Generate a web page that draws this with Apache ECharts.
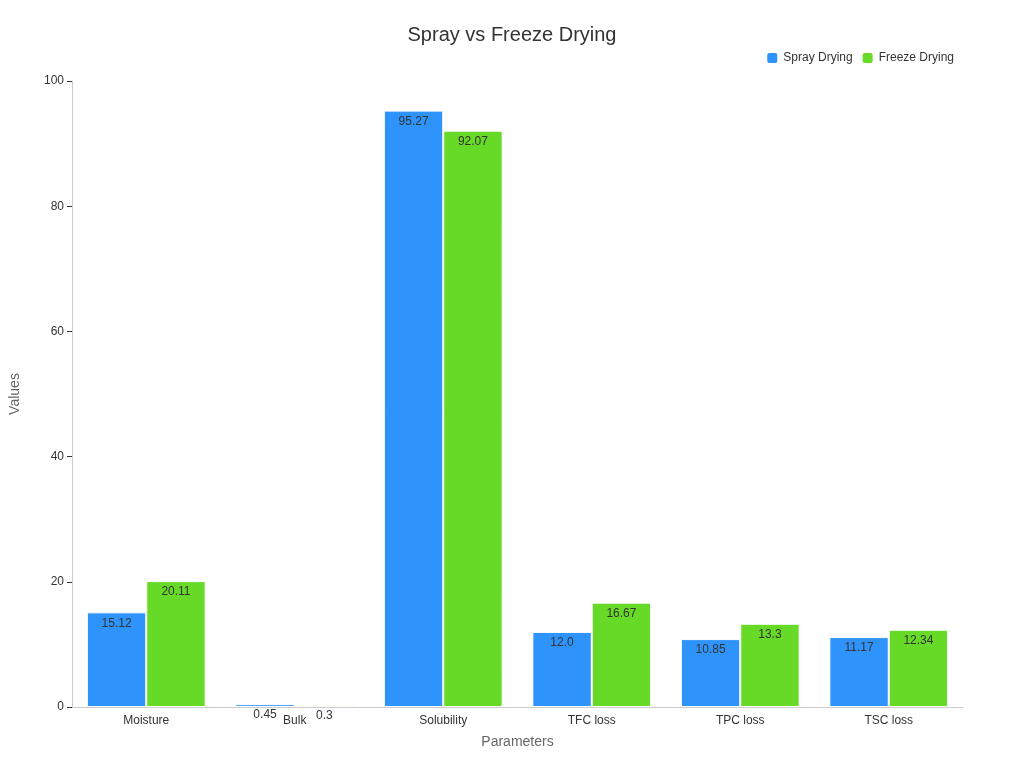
<!DOCTYPE html>
<html>
<head>
<meta charset="utf-8">
<script src="https://cdn.jsdelivr.net/npm/echarts@6/dist/echarts.min.js"></script>
<style>html,body{margin:0;padding:0;background:#fff}#main{width:1024px;height:768px}</style>
</head>
<body>
<div id="main"></div>
<script>
var categories = ['Moisture', 'Bulk', 'Solubility', 'TFC loss', 'TPC loss', 'TSC loss'];
var sprayDrying = [15.12, 0.45, 95.27, 12.0, 10.85, 11.17];
var freezeDrying = [20.11, 0.3, 92.07, 16.67, 13.3, 12.34];

var myChart = echarts.init(document.getElementById('main'));
var labelStyle = {
    show: true,
    position: 'insideTop',
    color: '#333',
    fontSize: 12,
    formatter: function (p) {
        return p.value === 12 ? '12.0' : p.value;
    }
};
var option = {
    animation: false,
    title: {
        text: 'Spray vs Freeze Drying',
        left: 'center',
        top: 20,
        textStyle: {fontSize: 20, fontWeight: 'normal', color: '#333'}
    },
    legend: {
        right: 65,
        top: 46,
        itemWidth: 12,
        itemHeight: 12,
        textStyle: {fontSize: 12, color: '#333'},
        data: ['Spray Drying', 'Freeze Drying']
    },
    grid: {left: 68, right: 61, top: 81, bottom: 61},
    xAxis: {
        type: 'category',
        data: categories,
        name: 'Parameters',
        nameLocation: 'middle',
        nameGap: 28,
        nameTextStyle: {fontSize: 14, color: '#666'},
        axisLine: {lineStyle: {color: '#ccc'}},
        axisTick: {lineStyle: {color: '#333'}},
        axisLabel: {color: '#333', fontSize: 12}
    },
    yAxis: {
        type: 'value',
        min: 0,
        max: 100,
        interval: 20,
        name: 'Values',
        nameLocation: 'middle',
        nameGap: 50,
        nameTextStyle: {fontSize: 14, color: '#666'},
        axisLine: {show: true, lineStyle: {color: '#ccc'}},
        axisTick: {show: true, lineStyle: {color: '#333'}},
        axisLabel: {color: '#333', fontSize: 12},
        splitLine: {show: false}
    },
    series: [
        {
            name: 'Spray Drying',
            type: 'bar',
            data: sprayDrying,
            barGap: '0%',
            barCategoryGap: '20%',
            itemStyle: {color: '#2e93fa', borderColor: '#fff', borderWidth: 1},
            label: labelStyle
        },
        {
            name: 'Freeze Drying',
            type: 'bar',
            data: freezeDrying,
            itemStyle: {color: '#66da26', borderColor: '#fff', borderWidth: 1},
            label: labelStyle
        }
    ]
};
myChart.setOption(option);
</script>
</body>
</html>
